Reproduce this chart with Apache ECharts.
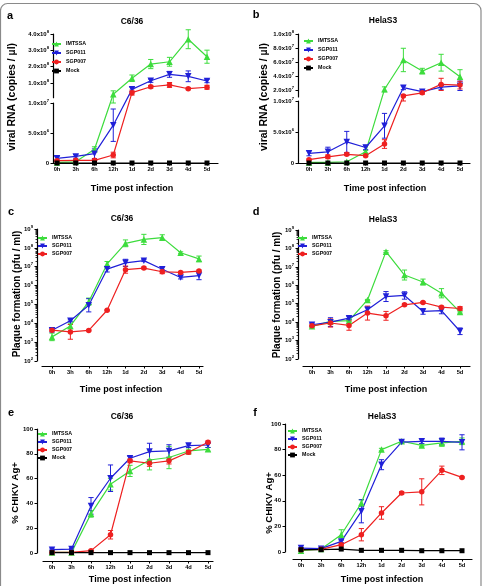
<!DOCTYPE html>
<html><head><meta charset="utf-8">
<script src="https://cdn.jsdelivr.net/npm/echarts@6/dist/echarts.min.js"></script>
<style>html,body{margin:0;padding:0;background:#fff}#c{width:483px;height:586px}</style>
</head><body><div id="c"></div>
<script>
// ---------------- DATA ----------------
const categories = ['0h','3h','6h','12h','1d','2d','3d','4d','5d'];
const seriesNames = ['IMTSSA','SGP011','SGP007','Mock'];

// (a) C6/36 viral RNA (copies/µl), mean and SD
const rnaC636_IMTSSA    = [1.0e5, 2.0e5, 2.3e6, 3.1e7, 1.29e8, 2.16e8, 2.3e8, 3.68e8, 2.61e8];
const rnaC636_IMTSSA_sd = [0, 0, 4e5, 2.1e7, 2.0e7, 2.8e7, 2.7e7, 5.8e7, 4.0e7];
const rnaC636_SGP011    = [7.8e5, 1.1e6, 1.55e6, 6.3e6, 6.1e7, 1.14e8, 1.53e8, 1.41e8, 1.12e8];
const rnaC636_SGP011_sd = [3e5, 3e5, 8e5, 2.7e6, 1.3e7, 1.0e7, 1.8e7, 3.3e7, 1.0e7];
const rnaC636_SGP007    = [3.9e5, 4.5e5, 4.5e5, 1.33e6, 4.1e7, 7.7e7, 8.8e7, 6.5e7, 7.4e7];
const rnaC636_SGP007_sd = [1e5, 1e5, 1e5, 4.7e5, 1.5e7, 0.8e7, 1.5e7, 0.6e7, 1.2e7];
const rnaC636_Mock      = [0, 0, 0, 0, 0, 0, 0, 0, 0];

// (b) HelaS3 viral RNA
const rnaHela_IMTSSA    = [1e5, 1e5, 2e5, 1.8e6, 2.1e7, 6.29e7, 4.7e7, 5.9e7, 3.9e7];
const rnaHela_IMTSSA_sd = [0, 0, 0, 2e5, 3.5e6, 1.67e7, 4e6, 1.2e7, 1e7];
const rnaHela_SGP011    = [1.56e6, 1.8e6, 3.4e6, 2.5e6, 6.0e6, 2.33e7, 1.76e7, 2.4e7, 2.6e7];
const rnaHela_SGP011_sd = [4e5, 7.5e5, 1.7e6, 3.5e5, 2.0e6, 2.8e6, 1.5e6, 3e6, 6.7e6];
const rnaHela_SGP007    = [5.3e5, 1.0e6, 1.4e6, 1.18e6, 3.06e6, 1.15e7, 1.6e7, 2.8e7, 2.7e7];
const rnaHela_SGP007_sd = [1e5, 3e5, 2e5, 1.5e5, 7e5, 1.5e6, 2e6, 8.7e6, 5.5e6];
const rnaHela_Mock      = [0, 0, 0, 0, 0, 0, 0, 0, 0];

// (c) C6/36 plaque formation (pfu/ml); error given in log10 units
const pfuC636_IMTSSA     = [1.9e3, 7.2e3, 1.4e5, 1.4e7, 1.74e8, 2.8e8, 3.5e8, 5.5e7, 2.6e7];
const pfuC636_IMTSSA_err = [0.2, 0.15, 0.19, 0.13, 0.18, 0.27, 0.15, 0.05, 0.15];
const pfuC636_SGP011     = [4.3e3, 1.35e4, 9e4, 7.4e6, 1.6e7, 2.1e7, 7.4e6, 2.7e6, 3.4e6];
const pfuC636_SGP011_err = [0.1, 0.05, 0.35, 0.15, 0.19, 0.05, 0.12, 0.08, 0.22];
const pfuC636_SGP007     = [4.3e3, 3.5e3, 4.2e3, 4.9e4, 7e6, 8.5e6, 5.4e6, 5e6, 5.9e6];
const pfuC636_SGP007_err = [0.05, 0.39, 0.03, 0.03, 0.19, 0.05, 0.1, 0.05, 0.05];

// (d) HelaS3 plaque formation
const pfuHela_IMTSSA     = [5.9e3, 1.1e4, 1.2e4, 1.6e5, 6.7e7, 3.6e6, 1.5e6, 3.7e5, 3.5e4];
const pfuHela_IMTSSA_err = [0.05, 0.05, 0.05, 0.03, 0.05, 0.27, 0.16, 0.25, 0.05];
const pfuHela_SGP011     = [7.2e3, 1.0e4, 1.65e4, 4.7e4, 2.45e5, 2.8e5, 3.8e4, 4.2e4, 3.2e3];
const pfuHela_SGP011_err = [0.08, 0.24, 0.08, 0.15, 0.27, 0.2, 0.15, 0.17, 0.18];
const pfuHela_SGP007     = [6.3e3, 9e3, 6.6e3, 3.1e4, 2.2e4, 8.7e4, 1.17e5, 6.5e4, 5.5e4];
const pfuHela_SGP007_err = [0.05, 0.22, 0.26, 0.38, 0.24, 0.05, 0.05, 0.05, 0.1];

// (e) C6/36 % CHIKV Ag+
const agC636_IMTSSA    = [0.5, 0.5, 31.6, 55.5, 66.2, 75, 77, 82.3, 83.6];
const agC636_IMTSSA_sd = [0, 0, 2.7, 4.7, 4.5, 8, 9, 1.5, 1.5];
const agC636_SGP011    = [2.7, 3.2, 38, 60.3, 76.4, 81.8, 82.3, 86.6, 87.1];
const agC636_SGP011_sd = [0.5, 0.5, 6.7, 10.7, 1.5, 6.7, 5, 1.5, 2];
const agC636_SGP007    = [0.5, 0.5, 1.9, 14.7, 74.3, 72.4, 74.3, 81.2, 89.3];
const agC636_SGP007_sd = [0, 0, 0.5, 3.4, 1.5, 2.5, 2.5, 1.5, 1];
const agC636_Mock      = [0.3, 0.3, 0.3, 0.3, 0.3, 0.3, 0.3, 0.3, 0.3];

// (f) HelaS3 % CHIKV Ag+
const agHela_IMTSSA    = [1, 2.3, 13.5, 38.3, 80, 86.5, 83.3, 85.2, 86.5];
const agHela_IMTSSA_sd = [0.5, 0.5, 3.9, 2.6, 1, 1, 1, 2.6, 2.6];
const agHela_SGP011    = [3.1, 2.6, 8.3, 31.8, 68.2, 85.9, 86.5, 86.5, 85.7];
const agHela_SGP011_sd = [0.5, 0.5, 1, 9, 3.9, 1, 1.8, 2.5, 5.9];
const agHela_SGP007    = [1.8, 2.1, 5.7, 13.5, 30.5, 46.1, 47, 63.8, 58.3];
const agHela_SGP007_sd = [0.5, 0.5, 1, 4.8, 4.9, 1, 10.2, 3.3, 0.5];
const agHela_Mock      = [1.8, 1.8, 2.3, 1.3, 1.3, 1.3, 1, 1, 1];

// tick values
const ticksA_lower = [0, 5e6, 1e7];
const ticksA_upper = [1e8, 2e8, 3e8, 4e8];
const ticksB_lower = [0, 5e6, 1e7];
const ticksB_upper = [2e7, 4e7, 6e7, 8e7, 1e8];
const ticksLog = [1e2, 1e3, 1e4, 1e5, 1e6, 1e7, 1e8, 1e9];

// ---------------- STYLE / LAYOUT ----------------
const FONT = 'Liberation Sans, Arial, Helvetica, sans-serif';
const COLORS = {IMTSSA:'#3ddc3d', SGP011:'#2020d8', SGP007:'#ee2020', Mock:'#000000'};
const SYMB = {IMTSSA:{s:'triangle', r:0, size:6.5}, SGP011:{s:'triangle', r:180, size:6.5},
              SGP007:{s:'circle', r:0, size:5.5}, Mock:{s:'rect', r:0, size:5}};

const panels = [
 {label:'a', kind:'broken', title:'C6/36', yTitle:'viral RNA (copies / µl)',
  data:{IMTSSA:[rnaC636_IMTSSA, rnaC636_IMTSSA_sd], SGP011:[rnaC636_SGP011, rnaC636_SGP011_sd],
        SGP007:[rnaC636_SGP007, rnaC636_SGP007_sd], Mock:[rnaC636_Mock, rnaC636_Mock]},
  gl:53, gr:218, x0:57, x8:207,
  lower:{top:103, bottom:163, min:0, max:1e7, ticks:ticksA_lower},
  upper:{top:34, bottom:97.7, min:1e7, max:4e8, ticks:ticksA_upper},
  lg:{left:51, top:41, gap:3}, lb:{x:7, y:16}, tt:{x:132, y:22}, xt:{x:132, y:189}, yt:{x:12, y:97, size:10.5}},
 {label:'b', kind:'broken', title:'HelaS3', yTitle:'viral RNA (copies / µl)',
  data:{IMTSSA:[rnaHela_IMTSSA, rnaHela_IMTSSA_sd], SGP011:[rnaHela_SGP011, rnaHela_SGP011_sd],
        SGP007:[rnaHela_SGP007, rnaHela_SGP007_sd], Mock:[rnaHela_Mock, rnaHela_Mock]},
  gl:298, gr:470, x0:309, x8:460,
  lower:{top:101, bottom:163, min:0, max:1e7, ticks:ticksB_lower},
  upper:{top:34, bottom:97, min:1e7, max:1e8, ticks:ticksB_upper},
  lg:{left:303, top:38, gap:3}, lb:{x:253, y:15}, tt:{x:383, y:21}, xt:{x:385, y:189}, yt:{x:264, y:97, size:10.5}},
 {label:'c', kind:'log', title:'C6/36', yTitle:'Plaque formation (pfu / ml)',
  data:{IMTSSA:[pfuC636_IMTSSA, pfuC636_IMTSSA_err], SGP011:[pfuC636_SGP011, pfuC636_SGP011_err],
        SGP007:[pfuC636_SGP007, pfuC636_SGP007_err]},
  gl:42, gr:203, top:229, bottom:361, yOff:5, xOff:5, x0:52, x8:199,
  lg:{left:37, top:235, gap:2}, lb:{x:8, y:212}, tt:{x:122, y:219}, xt:{x:121, y:390}, yt:{x:17, y:294, size:10}},
 {label:'d', kind:'log', title:'HelaS3', yTitle:'Plaque formation (pfu / ml)',
  data:{IMTSSA:[pfuHela_IMTSSA, pfuHela_IMTSSA_err], SGP011:[pfuHela_SGP011, pfuHela_SGP011_err],
        SGP007:[pfuHela_SGP007, pfuHela_SGP007_err]},
  gl:303, gr:470, top:230, bottom:359, yOff:5, xOff:7, x0:312, x8:460,
  lg:{left:297, top:235, gap:2}, lb:{x:253, y:212}, tt:{x:383, y:220}, xt:{x:386, y:390}, yt:{x:277, y:295, size:10}},
 {label:'e', kind:'pct', title:'C6/36', yTitle:'% CHIKV Ag+',
  data:{IMTSSA:[agC636_IMTSSA, agC636_IMTSSA_sd], SGP011:[agC636_SGP011, agC636_SGP011_sd],
        SGP007:[agC636_SGP007, agC636_SGP007_sd], Mock:[agC636_Mock, rnaC636_Mock]},
  gl:43, gr:213, top:429, bottom:553, yOff:6, xOff:8, x0:52, x8:208,
  lg:{left:37, top:431, gap:2}, lb:{x:8, y:413}, tt:{x:122, y:417}, xt:{x:130, y:580}, yt:{x:15.5, y:493, size:9.5}},
 {label:'f', kind:'pct', title:'HelaS3', yTitle:'% CHIKV Ag+',
  data:{IMTSSA:[agHela_IMTSSA, agHela_IMTSSA_sd], SGP011:[agHela_SGP011, agHela_SGP011_sd],
        SGP007:[agHela_SGP007, agHela_SGP007_sd], Mock:[agHela_Mock, rnaHela_Mock]},
  gl:293, gr:472, top:424, bottom:552, yOff:8, xOff:7, x0:301, x8:462,
  lg:{left:287, top:428, gap:2}, lb:{x:252, y:413}, tt:{x:382, y:417}, xt:{x:382, y:580}, yt:{x:269.5, y:503, size:9.5}}
];

// ---------------- BUILD ----------------
const RICH = {
  b:{fontSize:6, fontWeight:'bold', fontFamily:FONT, color:'#000', lineHeight:9},
  s:{fontSize:4.2, fontWeight:'bold', fontFamily:FONT, color:'#000', lineHeight:4.5, verticalAlign:'top'}
};
function sciLabel(v){
  if (v === 0) return '{b|0}';
  const e = Math.floor(Math.log10(v) + 1e-9);
  const m = v / Math.pow(10, e);
  return '{b|' + m.toFixed(1) + 'x10}{s|' + e + '}';
}
function logLabel(v){ return '{b|10}{s|' + Math.round(Math.log10(v)) + '}'; }

const grids = [], xAxes = [], yAxes = [], series = [], legends = [], graphics = [];
const catIdx = categories.map((c, i) => i);
const AX = {color:'#000', width:1.2};

function addGrid(left, right, top, bottom){
  grids.push({left:left, top:top, width:right-left, height:bottom-top, containLabel:false, outerBoundsMode:'none'});
  return grids.length - 1;
}
function addX(gi, p, show, offset){
  const dx = (p.x8 - p.x0) / 8;
  xAxes.push({type:'value', gridIndex:gi, show:show, position:'bottom', offset:offset||0,
    min:(p.gl - p.x0)/dx, max:(p.gr - p.x0)/dx,
    axisLine:{show:true, onZero:false, lineStyle:AX},
    axisTick:{show:true, customValues:catIdx, length:2.5, lineStyle:{color:'#000', width:1}},
    axisLabel:{customValues:catIdx, formatter:v => categories[Math.round(v)], fontSize:5.7,
      fontWeight:'bold', fontFamily:FONT, color:'#000', margin:3},
    splitLine:{show:false}});
  return xAxes.length - 1;
}
function addY(gi, cfg){
  const a = Object.assign({gridIndex:gi, position:'left',
    axisLine:{show:true, onZero:false, lineStyle:AX},
    axisTick:{show:true, length:2.5, lineStyle:{color:'#000', width:1}},
    splitLine:{show:false}}, cfg);
  yAxes.push(a);
  return yAxes.length - 1;
}
function errBarSeries(name, xi, yi, data){
  return {type:'custom', name:name + '-err', xAxisIndex:xi, yAxisIndex:yi, silent:true, clip:false, z:3,
    data:data, encode:{x:0, y:[1,2]},
    renderItem:function(params, api){
      const x = api.value(0), lo = api.value(1), hi = api.value(2);
      const p1 = api.coord([x, lo]), p2 = api.coord([x, hi]);
      const w = 2.6, st = {stroke:COLORS[name], lineWidth:1};
      return {type:'group', children:[
        {type:'line', shape:{x1:p1[0], y1:p1[1], x2:p2[0], y2:p2[1]}, style:st},
        {type:'line', shape:{x1:p1[0]-w, y1:p1[1], x2:p1[0]+w, y2:p1[1]}, style:st},
        {type:'line', shape:{x1:p2[0]-w, y1:p2[1], x2:p2[0]+w, y2:p2[1]}, style:st}
      ]};
    }};
}
function lineSeries(name, xi, yi, pts){
  const sy = SYMB[name];
  return {type:'line', name:name, xAxisIndex:xi, yAxisIndex:yi, data:pts, clip:false,
    symbol:sy.s, symbolRotate:sy.r, symbolSize:sy.size, showAllSymbol:true, z:4,
    itemStyle:{color:COLORS[name]}, lineStyle:{color:COLORS[name], width:1.2},
    emphasis:{disabled:true}, animation:false};
}
function txt(x, y, text, size, rot){
  graphics.push({type:'text', x:x, y:y, rotation:rot||0, silent:true,
    style:{text:text, fontSize:size, fontWeight:'bold', fontFamily:FONT, fill:'#000', align:'center', verticalAlign:'middle'}});
}

panels.forEach(p => {
  let xi, yi;
  if (p.kind === 'broken') {
    const gU = addGrid(p.gl, p.gr, p.upper.top, p.upper.bottom);
    const gL = addGrid(p.gl, p.gr, p.lower.top, p.lower.bottom);
    addX(gU, p, false);
    addY(gU, {type:'value', min:p.upper.min, max:p.upper.max,
      axisTick:{show:true, length:2.5, customValues:p.upper.ticks, lineStyle:{color:'#000', width:1}},
      axisLabel:{customValues:p.upper.ticks, formatter:sciLabel, rich:RICH, margin:4}});
    xi = addX(gL, p, true);
    yi = addY(gL, {type:'value', min:p.lower.min, max:p.lower.max,
      axisTick:{show:true, length:2.5, customValues:p.lower.ticks, lineStyle:{color:'#000', width:1}},
      axisLabel:{customValues:p.lower.ticks, formatter:sciLabel, rich:RICH, margin:4}});
    // broken-axis value transform (into the lower axis domain)
    const HL = p.lower.bottom - p.lower.top, HU = p.upper.bottom - p.upper.top, G = p.lower.top - p.upper.bottom;
    const T = v => v <= p.lower.max ? v :
      p.lower.max * (1 + (G + (v - p.upper.min) / (p.upper.max - p.upper.min) * HU) / HL);
    Object.keys(p.data).forEach(name => {
      const [vals, sd] = p.data[name];
      const eb = [];
      vals.forEach((v, i) => { if (sd[i] > 0) eb.push([i, T(Math.max(0, v - sd[i])), T(v + sd[i])]); });
      if (eb.length) series.push(errBarSeries(name, xi, yi, eb));
      series.push(lineSeries(name, xi, yi, vals.map((v, i) => [i, T(v)])));
    });
  } else {
    const g = addGrid(p.gl, p.gr, p.top, p.bottom);
    xi = addX(g, p, true, p.xOff);
    if (p.kind === 'log') {
      yi = addY(g, {type:'log', logBase:10, min:1e2, max:1e9, offset:p.yOff,
        axisTick:{show:true, length:2.5, customValues:ticksLog, lineStyle:{color:'#000', width:1}},
        minorTick:{show:true, splitNumber:9, length:1.5, lineStyle:{color:'#000', width:0.8}},
        axisLabel:{customValues:ticksLog, formatter:logLabel, rich:RICH, margin:4}});
    } else {
      yi = addY(g, {type:'value', min:0, max:100, interval:20, offset:p.yOff,
        axisLabel:{fontSize:6, fontWeight:'bold', fontFamily:FONT, color:'#000', margin:4}});
    }
    Object.keys(p.data).forEach(name => {
      const [vals, e] = p.data[name];
      const eb = [];
      vals.forEach((v, i) => {
        if (e[i] > 0) {
          if (p.kind === 'log') eb.push([i, v / Math.pow(10, e[i]), v * Math.pow(10, e[i])]);
          else eb.push([i, v - e[i], v + e[i]]);
        }
      });
      if (eb.length) series.push(errBarSeries(name, xi, yi, eb));
      series.push(lineSeries(name, xi, yi, vals.map((v, i) => [i, v])));
    });
  }
  legends.push({orient:'vertical', left:p.lg.left, top:p.lg.top, itemWidth:9, itemHeight:6, itemGap:p.lg.gap,
    padding:0, selectedMode:false, data:Object.keys(p.data),
    textStyle:{fontSize:5.3, fontWeight:'bold', fontFamily:FONT, color:'#000', lineHeight:6}});
  txt(p.lb.x + 3, p.lb.y, p.label, 11);
  txt(p.tt.x, p.tt.y, p.title, 8.5);
  txt(p.xt.x, p.xt.y, 'Time post infection', 9);
  txt(p.yt.x, p.yt.y, p.yTitle, p.yt.size, Math.PI / 2);
});

graphics.push({type:'rect', silent:true, z:-10, shape:{x:0.5, y:3.5, width:480.5, height:640, r:7},
  style:{fill:'none', stroke:'#8a8a8a', lineWidth:1.2}});

const chart = echarts.init(document.getElementById('c'), null, {renderer:'canvas'});
chart.setOption({
  animation:false, backgroundColor:'#fff',
  textStyle:{fontFamily:FONT},
  grid:grids, xAxis:xAxes, yAxis:yAxes, legend:legends, series:series, graphic:graphics,
  tooltip:{show:false}
});
</script></body></html>
